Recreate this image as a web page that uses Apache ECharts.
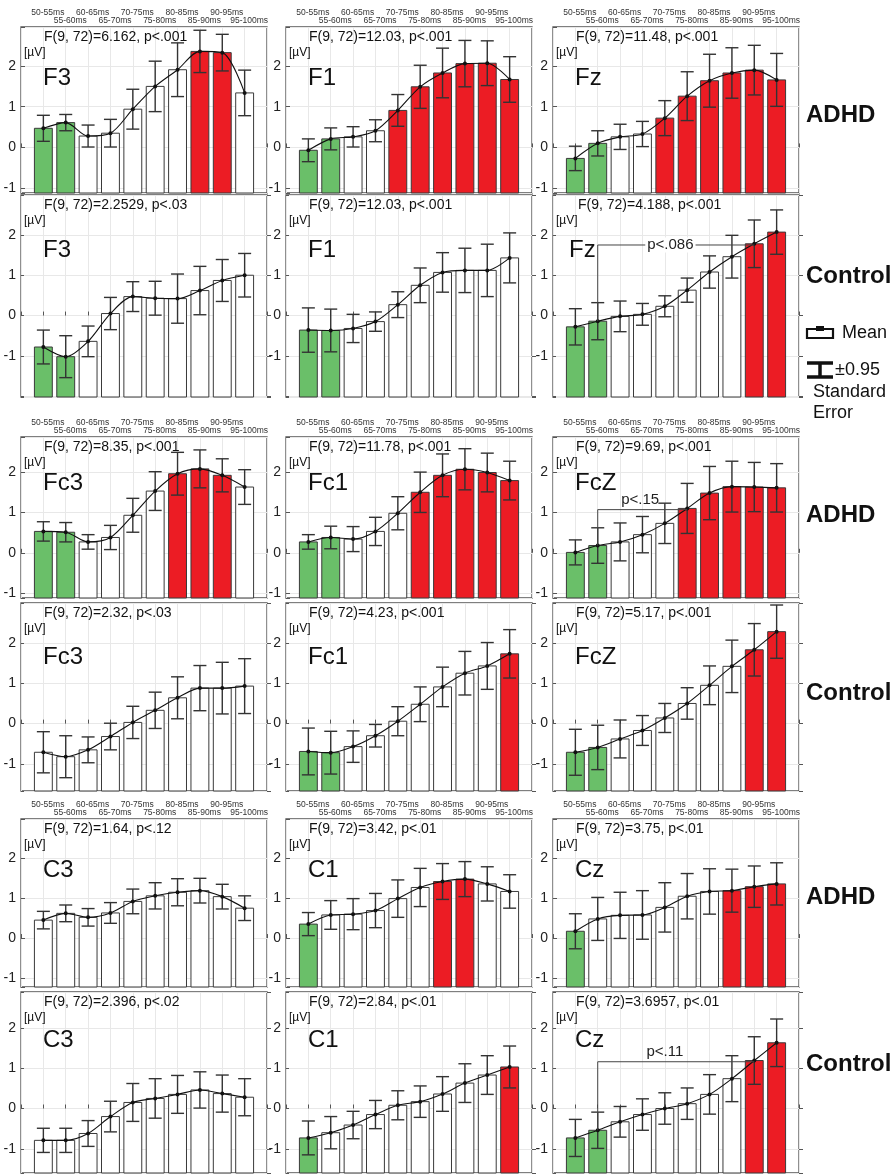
<!DOCTYPE html>
<html>
<head>
<meta charset="utf-8">
<title>ERP time windows</title>
<script src="https://cdn.jsdelivr.net/npm/echarts@6/dist/echarts.min.js"></script>
<style>
    html, body { margin: 0; padding: 0; background: #fff; }
    #main { width: 892px; height: 1175px; }
</style>
</head>
<body>
<div id="main"></div>
<script>
var timeWindows = ['50-55ms', '55-60ms', '60-65ms', '65-70ms', '70-75ms', '75-80ms', '80-85ms', '85-90ms', '90-95ms', '95-100ms'];

// means [uV] and +-0.95 SE
var F3_ADHD = [0.47, 0.61, 0.28, 0.35, 0.94, 1.50, 1.91, 2.36, 2.33, 1.34];
var F3_ADHD_ERR = [0.32, 0.20, 0.27, 0.34, 0.49, 0.62, 0.66, 0.52, 0.45, 0.56];
var F3_ADHD_SIG = 'gg_____rr_';
var F1_ADHD = [-0.07, 0.21, 0.26, 0.41, 0.91, 1.49, 1.83, 2.06, 2.07, 1.67];
var F1_ADHD_ERR = [0.28, 0.27, 0.25, 0.27, 0.39, 0.53, 0.61, 0.57, 0.55, 0.56];
var F1_ADHD_SIG = 'gg__rrrrrr';
var FZ_ADHD = [-0.27, 0.10, 0.26, 0.33, 0.72, 1.26, 1.64, 1.83, 1.90, 1.66];
var FZ_ADHD_ERR = [0.30, 0.31, 0.31, 0.31, 0.43, 0.60, 0.65, 0.62, 0.61, 0.65];
var FZ_ADHD_SIG = 'gg__rrrrrr';

var F3_CTRL = [-0.78, -1.02, -0.64, 0.05, 0.47, 0.43, 0.42, 0.62, 0.87, 1.00];
var F3_CTRL_ERR = [0.42, 0.52, 0.38, 0.40, 0.37, 0.42, 0.61, 0.60, 0.52, 0.54];
var F3_CTRL_SIG = 'gg________';
var F1_CTRL = [-0.36, -0.37, -0.32, -0.15, 0.27, 0.75, 1.07, 1.12, 1.12, 1.43];
var F1_CTRL_ERR = [0.55, 0.53, 0.35, 0.24, 0.32, 0.43, 0.49, 0.55, 0.65, 0.62];
var F1_CTRL_SIG = 'gg________';
var FZ_CTRL = [-0.28, -0.14, -0.02, 0.03, 0.23, 0.63, 1.08, 1.46, 1.78, 2.07];
var FZ_CTRL_ERR = [0.45, 0.46, 0.38, 0.27, 0.26, 0.30, 0.40, 0.53, 0.59, 0.55];
var FZ_CTRL_SIG = 'gg______rr';

var FC3_ADHD = [0.53, 0.51, 0.27, 0.38, 0.93, 1.53, 1.96, 2.08, 1.92, 1.63];
var FC3_ADHD_ERR = [0.24, 0.24, 0.18, 0.30, 0.42, 0.48, 0.53, 0.47, 0.41, 0.43];
var FC3_ADHD_SIG = 'gg____rrr_';
var FC1_ADHD = [0.27, 0.38, 0.34, 0.53, 0.98, 1.50, 1.92, 2.07, 1.99, 1.79];
var FC1_ADHD_ERR = [0.18, 0.28, 0.31, 0.35, 0.41, 0.50, 0.53, 0.51, 0.48, 0.48];
var FC1_ADHD_SIG = 'gg___rrrrr';
var FCZ_ADHD = [0.01, 0.18, 0.27, 0.45, 0.73, 1.10, 1.48, 1.64, 1.63, 1.61];
var FCZ_ADHD_ERR = [0.31, 0.44, 0.47, 0.45, 0.50, 0.62, 0.66, 0.63, 0.61, 0.60];
var FCZ_ADHD_SIG = 'gg___rrrrr';

var FC3_CTRL = [-0.71, -0.82, -0.65, -0.32, 0.03, 0.33, 0.64, 0.88, 0.88, 0.93];
var FC3_CTRL_ERR = [0.51, 0.52, 0.32, 0.33, 0.40, 0.45, 0.52, 0.56, 0.64, 0.68];
var FC3_CTRL_SIG = '__________';
var FC1_CTRL = [-0.69, -0.72, -0.57, -0.30, 0.06, 0.48, 0.91, 1.25, 1.43, 1.73];
var FC1_CTRL_ERR = [0.58, 0.53, 0.39, 0.28, 0.36, 0.43, 0.49, 0.54, 0.58, 0.60];
var FC1_CTRL_SIG = 'gg_______r';
var FCZ_CTRL = [-0.71, -0.59, -0.38, -0.17, 0.14, 0.50, 0.95, 1.42, 1.83, 2.28];
var FCZ_CTRL_ERR = [0.57, 0.55, 0.47, 0.37, 0.36, 0.39, 0.48, 0.65, 0.65, 0.66];
var FCZ_CTRL_SIG = 'gg______rr';

var C3_ADHD = [0.45, 0.62, 0.52, 0.63, 0.92, 1.06, 1.15, 1.19, 1.04, 0.75];
var C3_ADHD_ERR = [0.22, 0.21, 0.22, 0.26, 0.31, 0.33, 0.34, 0.31, 0.31, 0.31];
var C3_ADHD_SIG = '__________';
var C1_ADHD = [0.35, 0.58, 0.60, 0.69, 0.99, 1.27, 1.42, 1.48, 1.36, 1.17];
var C1_ADHD_ERR = [0.29, 0.36, 0.39, 0.43, 0.47, 0.48, 0.45, 0.44, 0.43, 0.42];
var C1_ADHD_SIG = 'g_____rr__';
var CZ_ADHD = [0.17, 0.48, 0.57, 0.58, 0.77, 1.05, 1.17, 1.19, 1.29, 1.36];
var CZ_ADHD_ERR = [0.44, 0.54, 0.58, 0.61, 0.62, 0.57, 0.57, 0.54, 0.52, 0.53];
var CZ_ADHD_SIG = 'g______rrr';

var C3_CTRL = [-0.79, -0.79, -0.62, -0.20, 0.15, 0.25, 0.35, 0.46, 0.37, 0.28];
var C3_CTRL_ERR = [0.30, 0.30, 0.32, 0.38, 0.47, 0.49, 0.47, 0.45, 0.46, 0.46];
var C3_CTRL_SIG = '__________';
var C1_CTRL = [-0.73, -0.60, -0.41, -0.15, 0.08, 0.17, 0.36, 0.63, 0.83, 1.03];
var C1_CTRL_ERR = [0.42, 0.40, 0.34, 0.35, 0.36, 0.39, 0.43, 0.48, 0.48, 0.52];
var C1_CTRL_SIG = 'g________r';
var CZ_CTRL = [-0.73, -0.54, -0.33, -0.15, 0.00, 0.12, 0.35, 0.74, 1.19, 1.63];
var CZ_CTRL_ERR = [0.46, 0.45, 0.38, 0.39, 0.39, 0.39, 0.49, 0.57, 0.59, 0.59];
var CZ_CTRL_SIG = 'gg______rr';

// panels, row by row
var panels = [
    { name: 'F3', stat: 'F(9, 72)=6.162, p<.001', mean: F3_ADHD, err: F3_ADHD_ERR, sig: F3_ADHD_SIG },
    { name: 'F1', stat: 'F(9, 72)=12.03, p<.001', mean: F1_ADHD, err: F1_ADHD_ERR, sig: F1_ADHD_SIG },
    { name: 'Fz', stat: 'F(9, 72)=11.48, p<.001', mean: FZ_ADHD, err: FZ_ADHD_ERR, sig: FZ_ADHD_SIG },
    { name: 'F3', stat: 'F(9, 72)=2.2529, p<.03', mean: F3_CTRL, err: F3_CTRL_ERR, sig: F3_CTRL_SIG },
    { name: 'F1', stat: 'F(9, 72)=12.03, p<.001', mean: F1_CTRL, err: F1_CTRL_ERR, sig: F1_CTRL_SIG },
    { name: 'Fz', stat: 'F(9, 72)=4.188, p<.001', mean: FZ_CTRL, err: FZ_CTRL_ERR, sig: FZ_CTRL_SIG },
    { name: 'Fc3', stat: 'F(9, 72)=8.35, p<.001', mean: FC3_ADHD, err: FC3_ADHD_ERR, sig: FC3_ADHD_SIG },
    { name: 'Fc1', stat: 'F(9, 72)=11.78, p<.001', mean: FC1_ADHD, err: FC1_ADHD_ERR, sig: FC1_ADHD_SIG },
    { name: 'FcZ', stat: 'F(9, 72)=9.69, p<.001', mean: FCZ_ADHD, err: FCZ_ADHD_ERR, sig: FCZ_ADHD_SIG },
    { name: 'Fc3', stat: 'F(9, 72)=2.32, p<.03', mean: FC3_CTRL, err: FC3_CTRL_ERR, sig: FC3_CTRL_SIG },
    { name: 'Fc1', stat: 'F(9, 72)=4.23, p<.001', mean: FC1_CTRL, err: FC1_CTRL_ERR, sig: FC1_CTRL_SIG },
    { name: 'FcZ', stat: 'F(9, 72)=5.17, p<.001', mean: FCZ_CTRL, err: FCZ_CTRL_ERR, sig: FCZ_CTRL_SIG },
    { name: 'C3', stat: 'F(9, 72)=1.64, p<.12', mean: C3_ADHD, err: C3_ADHD_ERR, sig: C3_ADHD_SIG },
    { name: 'C1', stat: 'F(9, 72)=3.42, p<.01', mean: C1_ADHD, err: C1_ADHD_ERR, sig: C1_ADHD_SIG },
    { name: 'Cz', stat: 'F(9, 72)=3.75, p<.01', mean: CZ_ADHD, err: CZ_ADHD_ERR, sig: CZ_ADHD_SIG },
    { name: 'C3', stat: 'F(9, 72)=2.396, p<.02', mean: C3_CTRL, err: C3_CTRL_ERR, sig: C3_CTRL_SIG },
    { name: 'C1', stat: 'F(9, 72)=2.84, p<.01', mean: C1_CTRL, err: C1_CTRL_ERR, sig: C1_CTRL_SIG },
    { name: 'Cz', stat: 'F(9, 72)=3.6957, p<.01', mean: CZ_CTRL, err: CZ_CTRL_ERR, sig: CZ_CTRL_SIG }
];

// pairwise comparisons drawn as brackets: panel, from window, to window, label
var brackets = [
    { panel: 5, from: 2, to: 9, label: 'p<.086', at: 5.25, inline: true },
    { panel: 8, from: 2, to: 6, label: 'p<.15', at: 3.9, inline: false },
    { panel: 17, from: 2, to: 9, label: 'p<.11', at: 5.0, inline: false }
];

var rowGroup = ['ADHD', 'Control', 'ADHD', 'Control', 'ADHD', 'Control'];
var rowMin = [-1.12, -2.02, -1.12, -1.67, -1.23, -1.6];
var rowMax = [2.96, 2.99, 2.87, 2.99, 2.99, 2.89];

// layout
var colLeft = [21, 286, 553];
var colWidth = 246;
var rowTop = [27, 195, 437, 603, 819, 992];
var rowHeight = [166, 202, 161, 188, 168, 181];
var nameDy = [51, 55, 46, 54, 51, 48];
var groupY = [115, 276, 515, 693, 897, 1064];

var FONT = '"Liberation Sans", Arial, Helvetica, sans-serif';
var sigColor = { g: '#6abf69', r: '#ec1c24', _: '#ffffff' };

function renderBar(params, api) {
    var x = api.value(0), m = api.value(1), e = api.value(2);
    var cs = params.coordSys;
    var bottom = cs.y + cs.height;
    var top = api.coord([x, m]);
    var hi = api.coord([x, m + e]);
    var lo = api.coord([x, m - e]);
    var w = api.size([0.8, 0])[0];
    var cap = 6.5;
    var eStyle = { stroke: '#333', lineWidth: 1.4 };
    return {
        type: 'group',
        children: [
            { type: 'rect', shape: { x: top[0] - w / 2, y: top[1], width: w, height: bottom - top[1] },
              style: { fill: api.visual('color'), stroke: '#3a3a3a', lineWidth: 1 } },
            { type: 'line', shape: { x1: top[0], y1: hi[1], x2: top[0], y2: Math.min(lo[1], bottom) }, style: eStyle },
            { type: 'line', shape: { x1: top[0] - cap, y1: hi[1], x2: top[0] + cap, y2: hi[1] }, style: eStyle },
            { type: 'line', shape: { x1: top[0] - cap, y1: lo[1], x2: top[0] + cap, y2: lo[1] }, style: eStyle, invisible: lo[1] > bottom }
        ]
    };
}

function renderBracket(params, api) {
    var from = api.value(0), to = api.value(1), level = api.value(2), at = api.value(3), start = api.value(4), inline = api.value(5);
    var a = api.coord([from, start]);
    var b = api.coord([from, level]);
    var c = api.coord([to, level]);
    var t = api.coord([at, level]);
    var label = brackets[api.value(6)].label;
    return {
        type: 'group',
        children: [
            { type: 'polyline', shape: { points: [a, b, c] }, style: { stroke: '#444', lineWidth: 1, fill: null } },
            { type: 'text', x: t[0], y: inline ? t[1] : t[1] - 10,
              style: { text: label, font: '15px ' + FONT, fill: '#222', align: 'center', verticalAlign: 'middle',
                       textAlign: 'center', textVerticalAlign: 'middle',
                       backgroundColor: inline ? '#fff' : null, padding: inline ? [0, 2] : 0 } }
        ]
    };
}

var grids = [], xAxes = [], yAxes = [], series = [], graphics = [];

function label(x, y, text, font) {
    return { type: 'text', x: x, y: y, z: 1,
        style: { text: text, font: font, fill: '#111', verticalAlign: 'middle', textVerticalAlign: 'middle' } };
}

panels.forEach(function (p, i) {
    var r = Math.floor(i / 3), c = i % 3;
    var gx = colLeft[c], gy = rowTop[r];
    grids.push({ left: gx, top: gy, width: colWidth, height: rowHeight[r], show: true, borderColor: '#555', borderWidth: 1.3 });

    var xi = xAxes.length;
    xAxes.push({
        gridIndex: i, type: 'value', min: 0, max: 11, interval: 1,
        axisLine: { show: false },
        axisTick: { show: true, inside: true, length: 4, lineStyle: { color: '#555' } },
        axisLabel: { show: false },
        splitLine: { show: true, lineStyle: { color: '#e8e8e8', width: 1 } }
    });
    if (rowGroup[r] === 'ADHD') {
        xAxes.push({
            gridIndex: i, type: 'value', position: 'top', min: 0, max: 11, interval: 1,
            axisLine: { show: false }, axisTick: { show: false }, splitLine: { show: false },
            axisLabel: {
                margin: 2,
                formatter: function (v) {
                    var k = Math.round(v);
                    if (k < 1 || k > 10) return '';
                    return (k % 2 ? '{u|' : '{l|') + timeWindows[k - 1] + '}';
                },
                rich: {
                    u: { fontSize: 8.5, fontFamily: FONT, color: '#333', padding: [0, 0, 8, 9] },
                    l: { fontSize: 8.5, fontFamily: FONT, color: '#333', padding: [0, 0, 0, 9] }
                }
            }
        });
    }

    var yi = yAxes.length;
    yAxes.push({
        gridIndex: i, type: 'value', min: rowMin[r], max: rowMax[r],
        axisLine: { show: false },
        axisTick: { show: true, inside: true, length: 3, lineStyle: { color: '#555' } },
        axisLabel: {
            fontSize: 14, fontFamily: FONT, color: '#222', margin: 5,
            formatter: function (v) {
                if (Math.abs(v - Math.round(v)) > 1e-6 || v < -1 || v > 2) return '';
                return String(Math.round(v));
            }
        },
        splitLine: { show: true, lineStyle: { color: '#e8e8e8', width: 1 } }
    });
    yAxes.push({
        gridIndex: i, type: 'value', position: 'right', min: rowMin[r], max: rowMax[r],
        axisLine: { show: false },
        axisTick: { show: true, length: 4, lineStyle: { color: '#555' } },
        axisLabel: { show: false }, splitLine: { show: false }
    });

    series.push({
        type: 'custom', xAxisIndex: xi, yAxisIndex: yi, z: 2, silent: true,
        renderItem: renderBar,
        data: p.mean.map(function (m, k) {
            return { value: [k + 1, m, p.err[k]], itemStyle: { color: sigColor[p.sig.charAt(k)] } };
        })
    });
    series.push({
        type: 'line', xAxisIndex: xi, yAxisIndex: yi, z: 4, silent: true,
        smooth: 0.3, symbol: 'circle', symbolSize: 4,
        itemStyle: { color: '#111' }, lineStyle: { color: '#111', width: 1.1 },
        data: p.mean.map(function (m, k) { return [k + 1, m]; })
    });

    brackets.forEach(function (b, bi) {
        if (b.panel !== i) return;
        series.push({
            type: 'custom', xAxisIndex: xi, yAxisIndex: yi, z: 5, silent: true,
            renderItem: renderBracket,
            data: [[b.from, b.to, p.mean[b.to - 1] - 0.03, b.at, p.mean[b.from - 1], b.inline ? 1 : 0, bi]]
        });
    });

    var nameX = gx + 22, statX = gx + 23;
    if (i === 5) { nameX = gx + 16; statX = gx + 25; }
    graphics.push(label(statX, gy + 10, p.stat, '14px ' + FONT));
    graphics.push(label(gx + 3, gy + 26, '[µV]', '12px ' + FONT));
    graphics.push(label(nameX, gy + nameDy[r], p.name, '24px ' + FONT));
});

rowGroup.forEach(function (g, r) {
    graphics.push(label(806, groupY[r], g, 'bold 24px ' + FONT));
});

// legend: mean box and error bar
graphics.push(
    { type: 'rect', shape: { x: 807, y: 329, width: 26, height: 9 }, style: { fill: '#fff', stroke: '#111', lineWidth: 2.2 } },
    { type: 'rect', shape: { x: 816, y: 326, width: 8, height: 5 }, style: { fill: '#111' } },
    label(842, 333, 'Mean', '18px ' + FONT),
    { type: 'line', shape: { x1: 807, y1: 363, x2: 833, y2: 363 }, style: { stroke: '#111', lineWidth: 3.5 } },
    { type: 'line', shape: { x1: 820, y1: 363, x2: 820, y2: 377 }, style: { stroke: '#111', lineWidth: 3.5 } },
    { type: 'line', shape: { x1: 807, y1: 377, x2: 833, y2: 377 }, style: { stroke: '#111', lineWidth: 3.5 } },
    label(835, 370, '±0.95', '18px ' + FONT),
    label(813, 392, 'Standard', '18px ' + FONT),
    label(813, 413, 'Error', '18px ' + FONT)
);

var myChart = echarts.init(document.getElementById('main'));
myChart.setOption({
    animation: false,
    backgroundColor: '#fff',
    textStyle: { fontFamily: FONT },
    grid: grids,
    xAxis: xAxes,
    yAxis: yAxes,
    series: series,
    graphic: { elements: graphics }
});
</script>
</body>
</html>
